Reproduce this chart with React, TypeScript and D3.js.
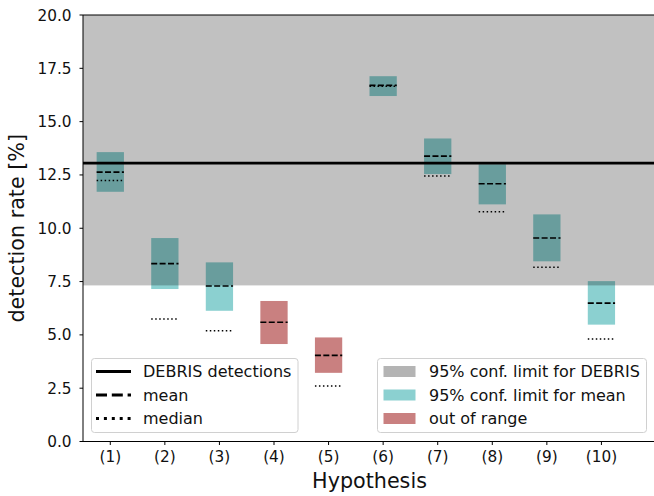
import React from "react";
import * as d3 from "d3";

// Hypotheses on the x axis
const labels = ["(1)", "(2)", "(3)", "(4)", "(5)", "(6)", "(7)", "(8)", "(9)", "(10)"];
// 95% confidence interval of the mean detection rate [%]
const ciLow = [11.71, 7.15, 6.13, 4.57, 3.22, 16.2, 12.54, 11.12, 8.45, 5.48];
const ciHigh = [13.57, 9.54, 8.4, 6.59, 4.88, 17.13, 14.21, 13.0, 10.65, 7.52];
const means = [12.63, 8.34, 7.29, 5.59, 4.04, 16.7, 13.38, 12.09, 9.54, 6.49];
const medians: (number | null)[] = [12.24, 5.74, 5.19, null, 2.6, 16.66, 12.45, 10.77, 8.17, 4.81];
// hypotheses whose interval falls outside the DEBRIS band
const outOfRange = [false, false, false, true, true, false, false, false, false, false];
// DEBRIS reference value and its lower 95% limit
const debrisRate = 13.05;
const debrisLower = 7.32;
const yTicks = [0, 2.5, 5, 7.5, 10, 12.5, 15, 17.5, 20];

const W = 654;
const H = 496;
const M = { left: 83, top: 15, bottom: 441.5, right: 656 };
const FONT = "DejaVu Sans, sans-serif";
const TICK_FS = 15.3;
const LEGEND_FS = 16;
const LABEL_FS = 20.7;

export default function App() {
  const x = d3.scaleLinear().domain([0.5, 11]).range([M.left, M.right]);
  const y = d3.scaleLinear().domain([0, 20]).range([M.bottom, M.top]);
  const halfW = 0.25;

  const cyan = "#8bd0d0";
  const red = "#c98080";

  return (
    <svg width={W} height={H} style={{ position: "absolute", left: 0, top: 0 }} fontFamily={FONT}>
      <defs>
        <clipPath id="plotArea">
          <rect x={M.left} y={M.top} width={M.right - M.left} height={M.bottom - M.top} />
        </clipPath>
      </defs>
      <rect x={0} y={0} width={W} height={H} fill="white" />
      <g clipPath="url(#plotArea)">
        {/* interval boxes */}
        {labels.map((_, i) => (
          <rect
            key={"b" + i}
            x={x(i + 1 - halfW)}
            y={y(ciHigh[i])}
            width={x(i + 1 + halfW) - x(i + 1 - halfW)}
            height={y(ciLow[i]) - y(ciHigh[i])}
            fill={outOfRange[i] ? red : cyan}
          />
        ))}
        {/* DEBRIS confidence band */}
        <rect
          x={M.left}
          y={y(20)}
          width={M.right - M.left}
          height={y(debrisLower) - y(20)}
          fill="black"
          fillOpacity={0.245}
        />
        {/* medians */}
        {labels.map((_, i) =>
          medians[i] == null ? null : (
            <line
              key={"md" + i}
              x1={x(i + 1 - halfW)}
              x2={x(i + 1 + halfW)}
              y1={y(medians[i] as number)}
              y2={y(medians[i] as number)}
              stroke="black"
              strokeWidth={1.5}
              strokeDasharray="1.5,2.5"
            />
          )
        )}
        {/* means */}
        {labels.map((_, i) => (
          <line
            key={"mn" + i}
            x1={x(i + 1 - halfW)}
            x2={x(i + 1 + halfW)}
            y1={y(means[i])}
            y2={y(means[i])}
            stroke="black"
            strokeWidth={1.6}
            strokeDasharray="6,2.4"
          />
        ))}
        {/* DEBRIS detections */}
        <line x1={M.left} x2={M.right} y1={y(debrisRate)} y2={y(debrisRate)} stroke="black" strokeWidth={2.8} />
      </g>

      {/* spines */}
      <line x1={M.left} x2={M.left} y1={M.top} y2={M.bottom} stroke="black" strokeWidth={1} />
      <line x1={M.left} x2={W} y1={M.top} y2={M.top} stroke="black" strokeWidth={1} />
      <line x1={M.left} x2={W} y1={M.bottom} y2={M.bottom} stroke="black" strokeWidth={1} />

      {/* y axis */}
      {yTicks.map((t) => (
        <g key={"yt" + t}>
          <line x1={M.left - 3.5} x2={M.left} y1={y(t)} y2={y(t)} stroke="black" />
          <text x={71.5} y={y(t)} dy="0.36em" textAnchor="end" fontSize={TICK_FS} fill="#111">
            {t.toFixed(1)}
          </text>
        </g>
      ))}
      <text
        transform={`translate(24,${(M.top + M.bottom) / 2}) rotate(-90)`}
        textAnchor="middle"
        fontSize={LABEL_FS}
        fill="#111"
      >
        detection rate [%]
      </text>

      {/* x axis */}
      {labels.map((l, i) => (
        <g key={"xt" + i}>
          <line x1={x(i + 1)} x2={x(i + 1)} y1={M.bottom} y2={M.bottom + 3.5} stroke="black" />
          <text x={x(i + 1)} y={M.bottom + 20} textAnchor="middle" fontSize={TICK_FS} fill="#111">
            {l}
          </text>
        </g>
      ))}
      <text x={(M.left + M.right) / 2} y={488} textAnchor="middle" fontSize={LABEL_FS} fill="#111">
        Hypothesis
      </text>

      {/* line legend */}
      <g>
        <rect x={91.5} y={358.5} width={206.5} height={74} rx={3} fill="white" fillOpacity={0.8} stroke="#d0d0d0" />
        {[
          { label: "DEBRIS detections", dash: "none" },
          { label: "mean", dash: "11,4.8" },
          { label: "median", dash: "3,4.9" },
        ].map((e, k) => (
          <g key={"ll" + k}>
            <line
              x1={96}
              x2={131}
              y1={371.5 + k * 23.5}
              y2={371.5 + k * 23.5}
              stroke="black"
              strokeWidth={3}
              strokeDasharray={e.dash}
            />
            <text x={143} y={371.5 + k * 23.5} dy="0.36em" fontSize={LEGEND_FS} fill="#111">
              {e.label}
            </text>
          </g>
        ))}
      </g>

      {/* patch legend */}
      <g>
        <rect x={377.5} y={358.5} width={269} height={74} rx={3} fill="white" fillOpacity={0.8} stroke="#d0d0d0" />
        {[
          { label: "95% conf. limit for DEBRIS", color: "#b4b4b4" },
          { label: "95% conf. limit for mean", color: cyan },
          { label: "out of range", color: red },
        ].map((e, k) => (
          <g key={"pl" + k}>
            <rect x={383.5} y={366 + k * 23.5} width={32} height={11} fill={e.color} />
            <text x={429} y={371.5 + k * 23.5} dy="0.36em" fontSize={LEGEND_FS} fill="#111">
              {e.label}
            </text>
          </g>
        ))}
      </g>
    </svg>
  );
}
